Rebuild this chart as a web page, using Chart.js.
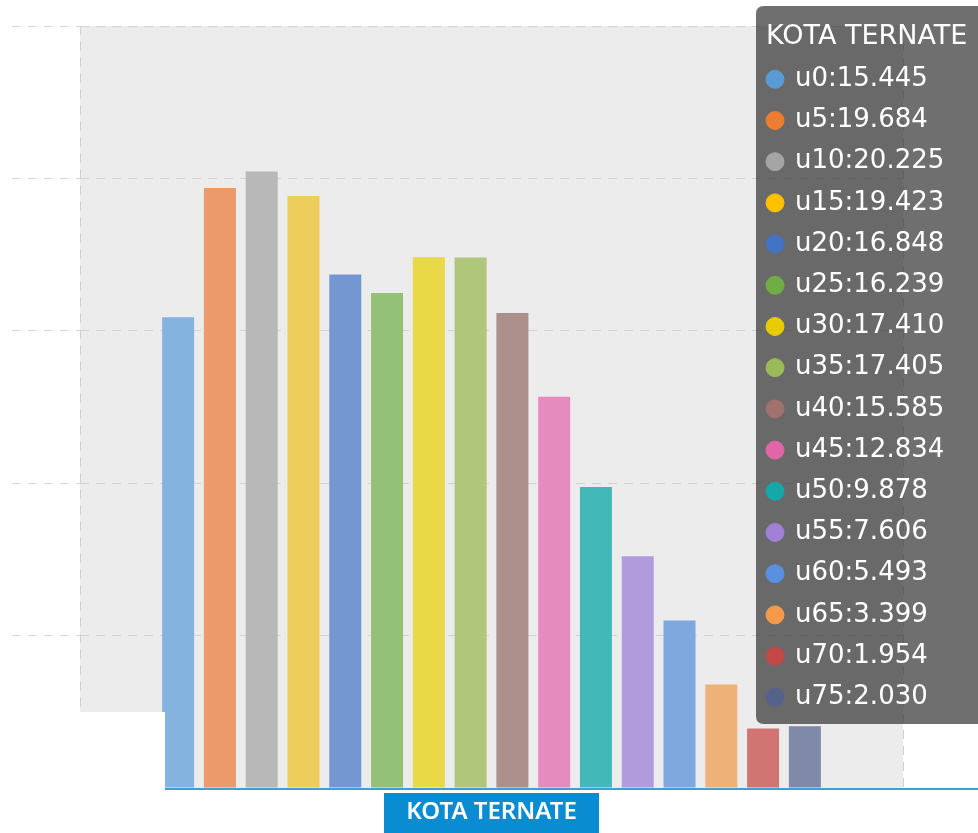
<!DOCTYPE html>
<html>
<head>
<meta charset="utf-8">
<script src="https://cdn.jsdelivr.net/npm/chart.js@4.4.1/dist/chart.umd.min.js"></script>
<style>
  html, body { margin: 0; padding: 0; background: #ffffff; overflow: hidden; width: 978px; height: 833px; }
  #wrap { position: relative; width: 1010px; height: 833px; }
</style>
</head>
<body>
<div id="wrap"><canvas id="chart" width="1010" height="833"></canvas></div>
<script>
// Region shown on the category axis
const categories = ['KOTA TERNATE'];

// Age groups (one series each)
const groups = ['u0', 'u5', 'u10', 'u15', 'u20', 'u25', 'u30', 'u35',
                'u40', 'u45', 'u50', 'u55', 'u60', 'u65', 'u70', 'u75'];

// Share of population per age group
const values = [15.445, 19.684, 20.225, 19.423, 16.848, 16.239, 17.410, 17.405,
                15.585, 12.834, 9.878, 7.606, 5.493, 3.399, 1.954, 2.030];

// Value axis range and step
const yMin = 0;
const yMax = 25;
const yStep = 5;

// Bar fills and the matching tooltip markers
const barColors = ['#84b3df', '#ec9a69', '#b8b8b8', '#edcd5c', '#7497d2', '#93c178', '#e9d946', '#b0c67b',
                   '#ad8f8b', '#e58bbe', '#42b9b8', '#b19bdd', '#7ea8de', '#eeb177', '#d07572', '#7e8aa7'];
const markerColors = ['#5b9bd5', '#ed7d31', '#a5a5a5', '#ffc000', '#4472c4', '#70ad47', '#e6cc00', '#9bbb59',
                      '#a0726d', '#e066a8', '#14a8a8', '#a081d6', '#5b8fe0', '#f59a4a', '#c34848', '#55638c'];

// Tooltip stays pinned in the upper right corner
Chart.Tooltip.positioners.pinned = function () {
  return { x: 764, y: 6 };
};

// Backdrop, axis line, lower left blank and category badge
const decorations = {
  id: 'decorations',
  beforeDraw(chart) {
    const { ctx, chartArea } = chart;
    ctx.save();
    ctx.fillStyle = '#ffffff';
    ctx.fillRect(0, 0, chart.width, chart.height);
    ctx.fillStyle = '#ececec';
    ctx.fillRect(chartArea.left, chartArea.top, chartArea.right - chartArea.left, chartArea.bottom - chartArea.top);
    ctx.restore();
  },
  afterDatasetsDraw(chart) {
    const { ctx, chartArea } = chart;
    const x = chart.scales.x;
    ctx.save();
    // blank block in the lower left corner
    ctx.fillStyle = '#ffffff';
    ctx.fillRect(0, 712, 165, chart.height - 712);
    // category axis line
    ctx.fillStyle = '#37a0de';
    ctx.fillRect(165, chartArea.bottom, chart.width - 165, 2);
    // category badge
    const cx = x.getPixelForValue(0);
    ctx.fillStyle = '#0a8cd2';
    ctx.fillRect(cx - 107.5, 793, 215, 50);
    ctx.fillStyle = '#ffffff';
    ctx.font = '600 24px "Noto Sans"';
    ctx.textAlign = 'center';
    ctx.textBaseline = 'middle';
    ctx.fillText(categories[0], cx, 812);
    ctx.restore();
  }
};

const datasets = groups.map((g, i) => ({
  label: g,
  data: [values[i]],
  backgroundColor: barColors[i],
  hoverBackgroundColor: barColors[i],
  borderWidth: 0,
  categoryPercentage: 0.8123,
  barPercentage: 0.766
}));

const chart = new Chart(document.getElementById('chart'), {
  type: 'bar',
  data: { labels: categories, datasets },
  plugins: [decorations],
  options: {
    responsive: false,
    devicePixelRatio: 1,
    animation: false,
    events: [],
    layout: { padding: { left: 12, right: 107, top: 26, bottom: 45 } },
    scales: {
      x: {
        display: true,
        offset: true,
        ticks: { display: false },
        grid: { display: true, offset: true, drawTicks: false, color: '#d0d0d0', lineWidth: 1 },
        border: { display: false, dash: [9, 7] }
      },
      y: {
        display: true,
        min: yMin,
        max: yMax,
        ticks: { display: false, stepSize: yStep },
        grid: {
          color: '#d2d2d2', lineWidth: 1,
          drawTicks: true, tickLength: 68, tickColor: '#d8d8d8', tickWidth: 1, tickBorderDash: [9, 7]
        },
        border: { display: false, dash: [9, 7] }
      }
    },
    plugins: {
      legend: { display: false },
      title: { display: false },
      tooltip: {
        enabled: true,
        position: 'pinned',
        xAlign: 'left',
        yAlign: 'top',
        caretSize: 0,
        caretPadding: 0,
        cornerRadius: 8,
        backgroundColor: 'rgba(50,50,50,0.7)',
        borderWidth: 0,
        titleColor: '#ffffff',
        bodyColor: '#ffffff',
        titleFont: { family: 'DejaVu Sans', size: 27, weight: 'normal', lineHeight: 1.1 },
        bodyFont: { family: 'DejaVu Sans', size: 26, weight: 'normal', lineHeight: 1.2 },
        titleMarginBottom: 12,
        titleSpacing: 0,
        bodySpacing: 10.0,
        padding: { top: 16, left: 10, right: 30, bottom: 11 },
        displayColors: true,
        usePointStyle: true,
        boxWidth: 18,
        boxHeight: 18,
        boxPadding: 9,
        multiKeyBackground: 'rgba(0,0,0,0)',
        animation: false,
        callbacks: {
          title: items => items.length ? items[0].label : '',
          label: ctx => ctx.dataset.label + ':' + ctx.parsed.y.toFixed(3),
          labelColor: ctx => ({
            borderColor: markerColors[ctx.datasetIndex],
            backgroundColor: markerColors[ctx.datasetIndex],
            borderWidth: 0
          }),
          labelPointStyle: () => ({ pointStyle: 'circle', rotation: 0 })
        }
      }
    }
  }
});

chart.tooltip.setActiveElements(groups.map((g, i) => ({ datasetIndex: i, index: 0 })), { x: 764, y: 6 });
chart.update();
</script>
</body>
</html>
